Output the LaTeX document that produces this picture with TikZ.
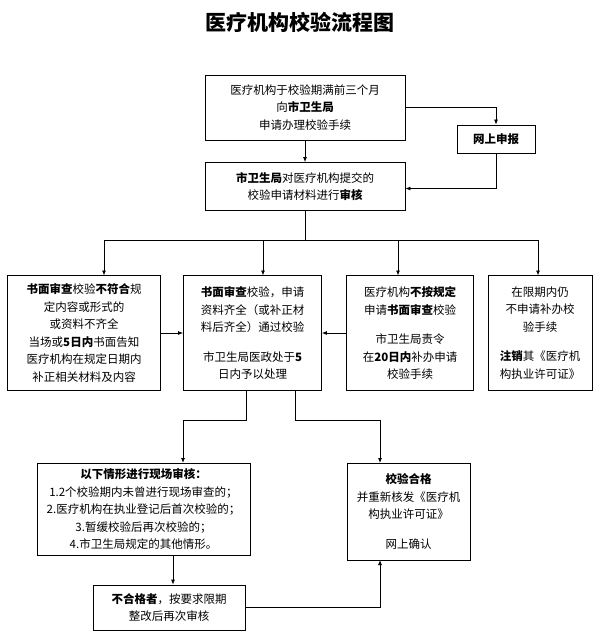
\documentclass[tikz,border=0pt]{standalone}
\usepackage{fontspec}
\setmainfont{Noto Sans CJK SC}
\usetikzlibrary{arrows.meta}
\begin{document}
\begin{tikzpicture}[x=1pt,y=-1pt,
  box/.style={draw, line width=0.8pt, align=center, inner sep=2pt,
    font=\fontsize{11.5}{17.5}\selectfont},
  arr/.style={-{Latex[length=5pt,width=4pt]}, line width=0.8pt},
  ln/.style={line width=0.8pt}]
\useasboundingbox (0,0) rectangle (600,639);
\node[font=\fontsize{21}{24}\selectfont\bfseries] (title) at (300,22) {医疗机构校验流程图};
\node[box, minimum width=200pt, minimum height=65pt] (apply) at (305,107.5) {医疗机构于校验期满前三个月\\向\textbf{市卫生局}\\申请办理校验手续};
\node[box, minimum width=78pt, minimum height=28pt] (online) at (496,139) {\textbf{网上申报}};
\node[box, minimum width=200pt, minimum height=48pt] (check) at (305,186.5) {\textbf{市卫生局}对医疗机构提交的\\校验申请材料进行\textbf{审核}};
\node[box, minimum width=153pt, minimum height=115pt] (fail) at (84,333) {\textbf{书面审查}校验\textbf{不符合}规\\定内容或形式的\\或资料不齐全\\当场或\textbf{5日内}书面告知\\医疗机构在规定日期内\\补正相关材料及内容};
\node[box, minimum width=138pt, minimum height=115pt] (pass) at (252.5,333) {\textbf{书面审查}校验，申请\\资料齐全（或补正材\\料后齐全）通过校验\\[12pt]市卫生局医政处于\textbf{5}\\日内予以处理};
\node[box, minimum width=127pt, minimum height=115pt] (late) at (410,333) {医疗机构\textbf{不按规定}\\申请\textbf{书面审查}校验\\[12pt]市卫生局责令\\在\textbf{20日内}补办申请\\校验手续};
\node[box, minimum width=104pt, minimum height=115pt] (cancel) at (540,333) {在限期内仍\\不申请补办校\\验手续\\[12pt]\textbf{注销}其《医疗机\\构执业许可证》};
\node[box, minimum width=213pt, minimum height=92pt] (site) at (143.5,509) {\textbf{以下情形进行现场审核：}\\1.2个校验期内未曾进行现场审查的；\\2.医疗机构在执业登记后首次校验的；\\3.暂缓校验后再次校验的；\\4.市卫生局规定的其他情形。};
\node[box, minimum width=123pt, minimum height=97pt] (ok) at (408.5,511.5) {\textbf{校验合格}\\并重新核发《医疗机\\构执业许可证》\\[12pt]网上确认};
\node[box, minimum width=152pt, minimum height=45pt] (redo) at (169,607.5) {\textbf{不合格者}，按要求限期\\整改后再次审核};
% top part
\draw[arr] (apply) -- (check);
\draw[arr] (apply.east) -| (online.north);
\draw[arr] (online.south) |- ([yshift=-2pt]check.east);
% branch to the four boxes
\draw[ln] (check.south) -- (305,240);
\draw[ln] (104,240) -- (538,240);
\foreach \n/\x in {fail/104, pass/263, late/398, cancel/538}
  \draw[arr] (\x,240) -- (\x,275.5);
\draw[arr] (fail) -- (pass);
\draw[arr] (late) -- (pass);
% lower part
\draw[arr] (246,390.5) -- (246,420) -| (183,463);
\draw[arr] (295,390.5) -- (295,420) -| (380,463);
\draw[arr] (site.south -| 173,0) -- (redo.north -| 173,0);
\draw[arr] (redo.east) -| (380,560);
\end{tikzpicture}
\end{document}
